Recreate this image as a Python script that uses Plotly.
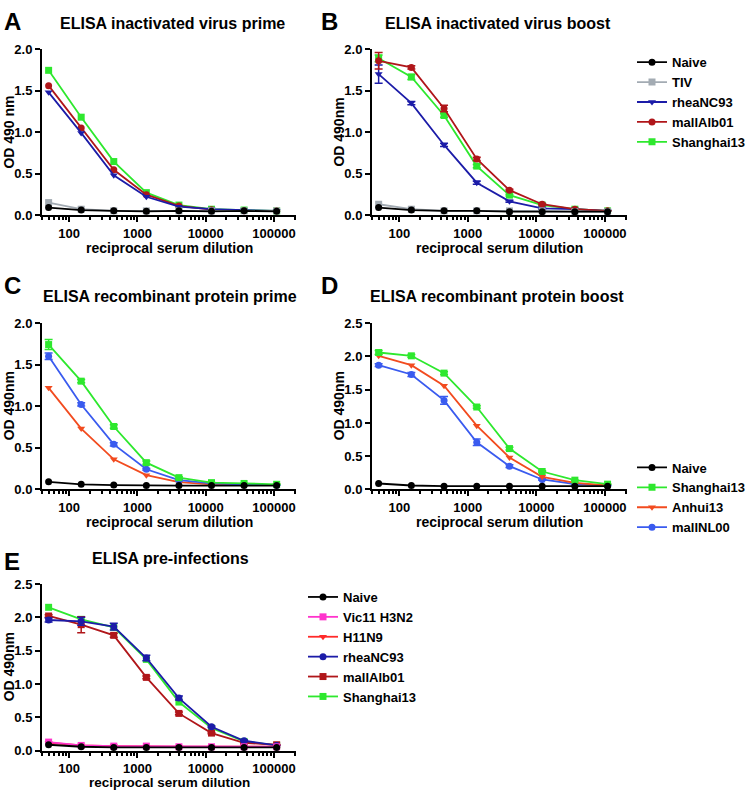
import plotly.graph_objects as go
import numpy as np

# dilution series (x values, shared by all panels)
dilution = [50, 150, 450, 1350, 4050, 12150, 36450, 109350]

# Panel A - inactivated virus prime
a_naive = [0.09, 0.06, 0.05, 0.045, 0.05, 0.045, 0.05, 0.045]
a_tiv = [0.15, 0.07, 0.05, 0.05, 0.05, 0.05, 0.05, 0.05]
a_rhea = [1.48, 0.99, 0.48, 0.22, 0.10, 0.07, 0.06, 0.05]
a_mall = [1.56, 1.05, 0.546, 0.245, 0.11, 0.065, 0.05, 0.05]
a_shang = [1.745, 1.18, 0.645, 0.27, 0.12, 0.07, 0.06, 0.05]

# Panel B - inactivated virus boost
b_naive = [0.09, 0.06, 0.05, 0.05, 0.04, 0.04, 0.04, 0.04]
b_tiv = [0.13, 0.07, 0.05, 0.05, 0.05, 0.05, 0.04, 0.04]
b_rhea = [1.70, 1.35, 0.845, 0.39, 0.165, 0.08, 0.07, 0.05]
b_rhea_err = [0.11, 0.02, 0.02, 0.02, 0.01, 0.01, 0.0, 0.0]
b_mall = [1.86, 1.78, 1.285, 0.676, 0.30, 0.13, 0.07, 0.05]
b_mall_err = [0.10, 0.02, 0.04, 0.02, 0.01, 0.01, 0.0, 0.0]
b_shang = [1.89, 1.665, 1.20, 0.59, 0.24, 0.12, 0.07, 0.05]
b_shang_err = [0.04, 0.03, 0.02, 0.02, 0.01, 0.01, 0.0, 0.0]

# Panel C - recombinant protein prime
c_naive = [0.09, 0.06, 0.05, 0.045, 0.045, 0.045, 0.045, 0.045]
c_shang = [1.74, 1.30, 0.755, 0.32, 0.14, 0.08, 0.07, 0.06]
c_shang_err = [0.06, 0.02, 0.02, 0.02, 0.01, 0.0, 0.0, 0.0]
c_anhui = [1.22, 0.73, 0.36, 0.17, 0.085, 0.06, 0.05, 0.05]
c_mallnl = [1.60, 1.02, 0.54, 0.24, 0.11, 0.07, 0.06, 0.05]
c_mallnl_err = [0.04, 0.02, 0.02, 0.01, 0.01, 0.0, 0.0, 0.0]

# Panel D - recombinant protein boost
d_naive = [0.09, 0.06, 0.05, 0.05, 0.05, 0.05, 0.05, 0.05]
d_shang = [2.06, 2.01, 1.75, 1.24, 0.615, 0.27, 0.14, 0.08]
d_shang_err = [0.03, 0.02, 0.02, 0.02, 0.02, 0.01, 0.0, 0.0]
d_anhui = [2.01, 1.87, 1.56, 0.96, 0.48, 0.19, 0.10, 0.06]
d_mallnl = [1.87, 1.73, 1.34, 0.71, 0.35, 0.15, 0.08, 0.06]
d_mallnl_err = [0.02, 0.03, 0.06, 0.05, 0.02, 0.01, 0.0, 0.0]

# Panel E - pre-infections
e_naive = [0.09, 0.06, 0.05, 0.05, 0.05, 0.05, 0.05, 0.05]
e_vic = [0.13, 0.08, 0.07, 0.07, 0.06, 0.06, 0.06, 0.06]
e_h11 = [0.12, 0.08, 0.07, 0.06, 0.06, 0.06, 0.06, 0.06]
e_rhea = [1.96, 1.94, 1.86, 1.39, 0.79, 0.36, 0.15, 0.08]
e_rhea_err = [0.03, 0.06, 0.05, 0.04, 0.03, 0.01, 0.01, 0.0]
e_mall = [2.02, 1.89, 1.73, 1.10, 0.56, 0.265, 0.12, 0.09]
e_mall_err = [0.02, 0.12, 0.03, 0.02, 0.02, 0.01, 0.01, 0.0]
e_shang = [2.15, 1.97, 1.85, 1.37, 0.73, 0.34, 0.14, 0.08]

FONT = "Liberation Sans, Arial, sans-serif"
W, H = 750, 799

# colours
BLACK = "#000000"
GREY = "#A3ABB3"
NAVY = "#1C1CA8"
DARKRED = "#B0161A"
GREEN = "#2EE82E"
ORANGE = "#F24B1F"
BLUE = "#3A5BEF"
MAGENTA = "#FF33CC"
RED = "#FF2A2A"


def px_x(p):
    return p / W


def px_y(p):
    return 1 - p / H


fig = go.Figure()

# panel layout in pixels: (x0, x1, ytop, ybottom)
panels = {
    "": (42, 296, 43, 212),
    "2": (372, 627, 43, 212),
    "3": (42, 296, 322, 491.5),
    "4": (372, 627, 322.3, 491.7),
    "5": (42, 296, 588, 758),
}


def add_series(ax, name, y, color, symbol, legend=None, rank=1, err=None):
    fig.add_trace(go.Scatter(
        x=dilution, y=y, name=name,
        mode="lines+markers",
        line=dict(color=color, width=1.8),
        marker=dict(color=color, symbol=symbol, size=7),
        error_y=dict(type="data", array=err, color=color, thickness=1.5, width=4, visible=err is not None),
        xaxis="x" + ax, yaxis="y" + ax,
        showlegend=legend is not None,
        legend=legend if legend else "legend",
        legendrank=rank,
        cliponaxis=False,
    ))


# Panel A (drawn bottom to top: last legend item first)
add_series("", "Shanghai13", a_shang, GREEN, "square", "legend", 5)
add_series("", "mallAlb01", a_mall, DARKRED, "circle", "legend", 4)
add_series("", "rheaNC93", a_rhea, NAVY, "triangle-down", "legend", 3)
add_series("", "TIV", a_tiv, GREY, "square", "legend", 2)
add_series("", "Naive", a_naive, BLACK, "circle", "legend", 1)

# Panel B
add_series("2", "Shanghai13", b_shang, GREEN, "square", err=b_shang_err)
add_series("2", "rheaNC93", b_rhea, NAVY, "triangle-down", err=b_rhea_err)
add_series("2", "mallAlb01", b_mall, DARKRED, "circle", err=b_mall_err)
add_series("2", "TIV", b_tiv, GREY, "square")
add_series("2", "Naive", b_naive, BLACK, "circle")

# Panel C
add_series("3", "Anhui13", c_anhui, ORANGE, "triangle-down")
add_series("3", "mallNL00", c_mallnl, BLUE, "circle", err=c_mallnl_err)
add_series("3", "Shanghai13", c_shang, GREEN, "square", err=c_shang_err)
add_series("3", "Naive", c_naive, BLACK, "circle")

# Panel D
add_series("4", "mallNL00", d_mallnl, BLUE, "circle", "legend2", 4, err=d_mallnl_err)
add_series("4", "Anhui13", d_anhui, ORANGE, "triangle-down", "legend2", 3)
add_series("4", "Shanghai13", d_shang, GREEN, "square", "legend2", 2, err=d_shang_err)
add_series("4", "Naive", d_naive, BLACK, "circle", "legend2", 1)

# Panel E
add_series("5", "Shanghai13", e_shang, GREEN, "square", "legend3", 6)
add_series("5", "mallAlb01", e_mall, DARKRED, "square", "legend3", 5, err=e_mall_err)
add_series("5", "rheaNC93", e_rhea, NAVY, "circle", "legend3", 4, err=e_rhea_err)
add_series("5", "H11N9", e_h11, RED, "triangle-down", "legend3", 3)
add_series("5", "Vic11 H3N2", e_vic, MAGENTA, "square", "legend3", 2)
add_series("5", "Naive", e_naive, BLACK, "circle", "legend3", 1)

# axes
minor_vals = [m * 10 ** k for k in range(1, 6) for m in range(2, 10)]
tickfont = dict(family=FONT, size=13, color="black", weight="bold")
layout_axes = {}
for key, (x0, x1, yt, yb) in panels.items():
    ymax = 2.5 if key in ("4", "5") else 2.0
    layout_axes["xaxis" + key] = dict(
        type="log", range=[np.log10(40), np.log10(210000)],
        domain=[px_x(x0), px_x(x1)], anchor="y" + key,
        tickvals=[100, 1000, 10000, 100000], ticktext=["100", "1000", "10000", "100000"],
        showline=True, linecolor="black", linewidth=2, mirror=False,
        ticks="outside", ticklen=5, tickwidth=2, tickcolor="black",
        minor=dict(tickvals=minor_vals, ticks="outside", ticklen=3, tickwidth=1.5, tickcolor="black"),
        showgrid=False, zeroline=False, tickfont=tickfont,
    )
    layout_axes["yaxis" + key] = dict(
        range=[0, ymax], domain=[px_y(yb), px_y(yt)], anchor="x" + key,
        dtick=0.5, tickformat=".1f",
        showline=True, linecolor="black", linewidth=2,
        ticks="outside", ticklen=5, tickwidth=2, tickcolor="black",
        showgrid=False, zeroline=False, tickfont=tickfont,
    )

annotations = []


def text(x, y, s, size, angle=0, yanchor="middle", pad=1):
    annotations.append(dict(
        x=px_x(x), y=px_y(y), xref="paper", yref="paper", text=s, showarrow=False,
        xanchor="center", yanchor=yanchor, textangle=angle, borderpad=pad,
        font=dict(family=FONT, size=size, color="black", weight="bold"),
    ))


# panel letters
text(12, 15, "A", 24)
text(329, 15, "B", 24)
text(12, 284, "C", 24)
text(329, 284, "D", 24)
text(12, 565, "E", 24)

# panel titles
text(172, 17, "ELISA inactivated virus prime", 16)
text(498, 17, "ELISA inactivated virus boost", 16)
text(170, 295, "ELISA recombinant protein prime", 16)
text(497, 295, "ELISA recombinant protein boost", 16)
text(170, 562, "ELISA pre-infections", 16)

# axis titles
text(9, 128, "OD 490 nm", 14, -90)
text(339, 128, "OD 490nm", 14, -90)
text(9, 407, "OD 490nm", 14, -90)
text(339, 407, "OD 490nm", 14, -90)
text(9, 673, "OD 490nm", 14, -90)
for cx, cy in [(169, 246), (499, 246), (169, 525), (499, 525)]:
    text(cx, cy, "reciprocal serum dilution", 14)
text(169, 799, "reciprocal serum dilution", 13.5, yanchor="bottom", pad=0)

legend_style = dict(
    font=dict(family=FONT, size=13, color="black", weight="bold"),
    bgcolor="rgba(0,0,0,0)", borderwidth=0, tracegroupgap=0,
    xanchor="left", yanchor="top", itemclick=False,
)

fig.update_layout(
    width=W, height=H,
    margin=dict(l=0, r=0, t=0, b=0),
    plot_bgcolor="white", paper_bgcolor="white",
    annotations=annotations,
    legend=dict(x=px_x(632), y=px_y(41), **legend_style),
    legend2=dict(x=px_x(632), y=px_y(454), **legend_style),
    legend3=dict(x=px_x(303), y=px_y(586), **legend_style),
    **layout_axes,
)

# page body margin off so the 750x799 figure fills the window exactly
fig.write_html("out.html", config={"displayModeBar": False},
               post_script="document.body.style.margin='0px';")
